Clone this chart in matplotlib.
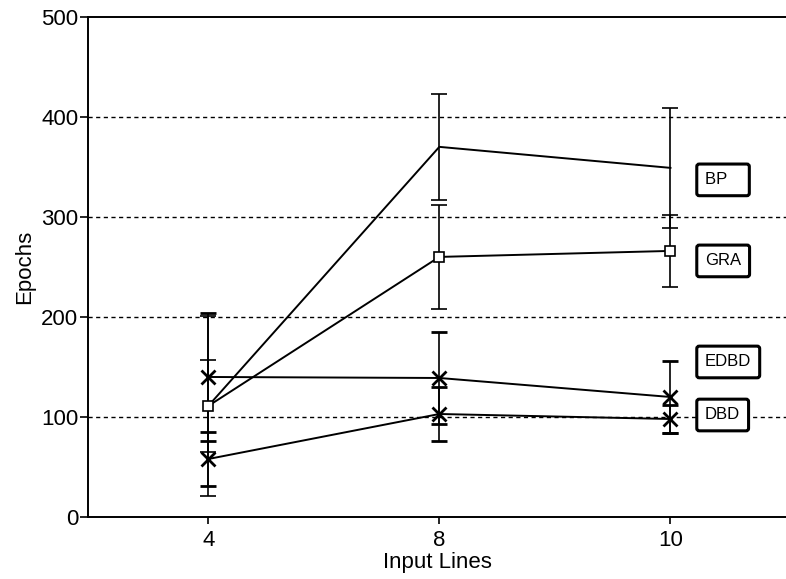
import matplotlib
matplotlib.use("Agg")
import matplotlib.pyplot as plt

plt.rcParams['font.family'] = ['Liberation Sans', 'DejaVu Sans']

# data
input_lines = ["4", "8", "10"]
bp = [111, 370, 349]
bp_err = [90, 53, 60]
gra = [111, 260, 266]
gra_err = [46, 52, 36]
edbd = [140, 139, 120]
edbd_err = [64, 46, 36]
dbd = [58, 103, 98]
dbd_err = [27, 27, 14]

# label boxes at the right (name, y value)
labels = ["BP   ", "GRA", "EDBD", "DBD"]
label_y = [337, 256, 155, 102]

fig = plt.figure(figsize=(7.86, 5.79), dpi=100)
ax = fig.add_axes([0.112, 0.107, 0.888, 0.864])

pos = list(range(len(input_lines)))

# dashed horizontal grid
for v in [100, 200, 300, 400]:
    ax.axhline(v, color='black', lw=1, ls=(0, (3, 2.5)), zorder=1)

ekw = dict(color='black', lw=1.4, elinewidth=1.2, capsize=6, capthick=1.2, zorder=3)
ax.errorbar(pos, bp, yerr=bp_err, marker=None, **ekw)
ax.errorbar(pos, gra, yerr=gra_err, marker='s', ms=7, mfc='white', mec='black', mew=1.2, **ekw)
ax.errorbar(pos, edbd, yerr=edbd_err, marker='x', ms=10, mew=2, **ekw)
ax.errorbar(pos, dbd, yerr=dbd_err, marker='x', ms=10, mew=2, **ekw)

for name, yv in zip(labels, label_y):
    ax.text(2.15, yv, name, fontsize=12, ha='left', va='center', zorder=5,
            bbox=dict(boxstyle='round,pad=0.5,rounding_size=0.15', fc='white', ec='black', lw=2.2))

ax.set_xlim(-0.52, 2.5)
ax.set_ylim(0, 500)
ax.set_xticks(pos)
ax.set_xticklabels(input_lines)
ax.set_yticks([0, 100, 200, 300, 400, 500])
ax.tick_params(axis='y', direction='out', length=6, width=1.2, labelsize=16, pad=1)
ax.tick_params(axis='x', direction='out', length=5, width=1.2, labelsize=16, pad=4)

ax.spines['right'].set_visible(False)
for s in ['left', 'top', 'bottom']:
    ax.spines[s].set_linewidth(1.4)

ax.set_xlabel("Input Lines", fontsize=16, labelpad=1)
ax.set_ylabel("Epochs", fontsize=16, labelpad=4)

fig.savefig("out.png", dpi=100)
